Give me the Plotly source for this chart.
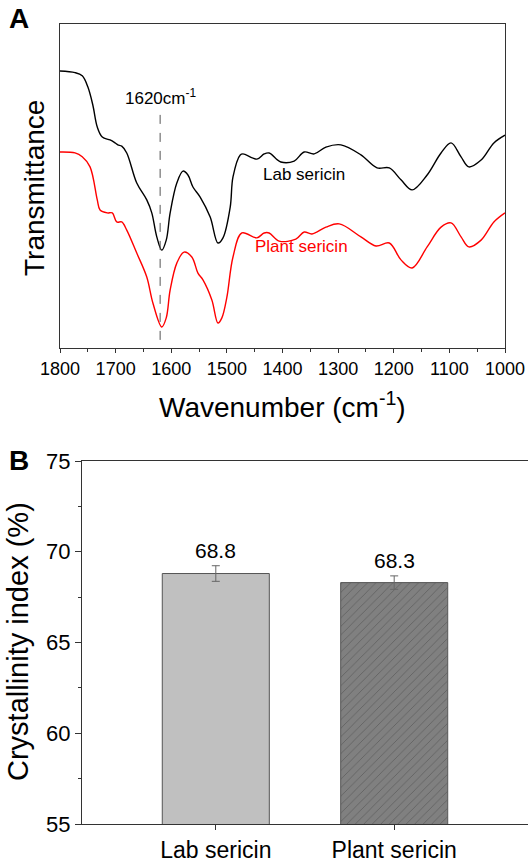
import plotly.graph_objects as go

# ---------------- Panel A: FTIR spectra (arbitrary transmittance units) ----------------
wn_lab = [1800, 1773, 1760, 1750, 1741, 1733, 1724, 1710, 1701, 1696, 1689, 1680, 1662, 1644,
          1635, 1626, 1617, 1609, 1602, 1590, 1579, 1570, 1561, 1548, 1530, 1516, 1507, 1494,
          1489, 1476, 1471, 1446, 1433, 1424, 1403, 1379, 1361, 1343, 1322, 1295, 1259, 1230,
          1208, 1187, 1167, 1140, 1115, 1097, 1079, 1065, 1043, 1020, 1000]
t_lab = [85.5, 85.0, 84.0, 80.6, 75.0, 68.2, 65.1, 64.2, 63.3, 62.7, 62.3, 60.2, 50.9, 45.7,
         41.7, 34.3, 30.2, 33.3, 41.7, 50.9, 54.6, 53.4, 49.7, 46.6, 40.4, 32.4, 34.0, 43.5,
         52.8, 59.6, 59.9, 58.3, 59.9, 60.2, 57.4, 57.7, 60.5, 59.9, 62.0, 62.7, 59.6, 55.6,
         55.6, 51.9, 48.8, 53.4, 60.2, 63.3, 59.0, 55.9, 58.0, 63.3, 65.7]

wn_plant = [1800, 1773, 1760, 1746, 1733, 1728, 1715, 1706, 1698, 1689, 1680, 1662, 1644, 1633,
            1617, 1609, 1602, 1590, 1577, 1563, 1552, 1543, 1527, 1516, 1509, 1500, 1489, 1473,
            1446, 1433, 1424, 1406, 1376, 1361, 1347, 1322, 1298, 1259, 1232, 1208, 1187, 1167,
            1140, 1115, 1097, 1079, 1065, 1043, 1020, 1000]
t_plant = [60.5, 60.2, 59.0, 55.9, 45.7, 42.6, 41.7, 41.7, 38.9, 38.9, 36.4, 29.3, 21.9, 13.9,
           6.5, 9.3, 17.9, 26.2, 29.6, 28.1, 23.1, 21.0, 14.8, 7.7, 9.3, 15.7, 28.1, 35.5,
           34.0, 35.5, 35.5, 33.0, 33.6, 35.8, 35.2, 37.3, 38.3, 34.3, 31.5, 32.4, 27.2, 24.7,
           31.2, 37.3, 38.6, 34.3, 31.2, 33.3, 38.9, 41.7]

peak_wn = 1620
wn_ticks = [1800, 1700, 1600, 1500, 1400, 1300, 1200, 1100, 1000]

# ---------------- Panel B: crystallinity index ----------------
categories = ["Lab sericin", "Plant sericin"]
crystallinity = [68.8, 68.3]
crystallinity_err = [0.43, 0.37]
ci_ticks = [55, 60, 65, 70, 75]

W, H = 528, 864
FONT = "Arial, Liberation Sans, sans-serif"
AXC = "#333333"


def px(x):
    return x / W


def py(y):
    return 1 - y / H


fig = go.Figure()

fig.add_trace(go.Scatter(x=wn_lab, y=t_lab, mode="lines", line=dict(color="#000000", width=1.4, shape="spline", smoothing=1.0),
                         xaxis="x", yaxis="y", showlegend=False))
fig.add_trace(go.Scatter(x=wn_plant, y=t_plant, mode="lines", line=dict(color="#ff0000", width=1.4, shape="spline", smoothing=1.0),
                         xaxis="x", yaxis="y", showlegend=False))

fig.add_trace(go.Bar(
    x=[0, 1], y=crystallinity, width=0.6, xaxis="x2", yaxis="y2", showlegend=False,
    marker=dict(
        color=["#c0c0c0", "#808080"],
        line=dict(color="#555555", width=1),
        pattern=dict(shape=["", "/"], fgcolor="#2a2a2a", size=6, solidity=0.15, fillmode="overlay"),
    ),
    error_y=dict(type="data", array=crystallinity_err, visible=True, color="#666666", thickness=1, width=4),
))

annotations = []
for i, (v, e) in enumerate(zip(crystallinity, crystallinity_err)):
    annotations.append(dict(x=i, y=v + e, xref="x2", yref="y2", text=f"{v:.1f}", showarrow=False,
                            xanchor="center", yanchor="bottom", yshift=2,
                            font=dict(size=21, color="#000", family=FONT)))

C = dict(xanchor="center", yanchor="middle", showarrow=False)
annotations += [
    dict(x=peak_wn, y=77.5, xref="x", yref="y", text="1620cm<sup>-1</sup>",
         font=dict(size=17, color="#000", family=FONT), **C),
    dict(x=1361, y=53.4, xref="x", yref="y", text="Lab sericin",
         font=dict(size=17, color="#000", family=FONT), **C),
    dict(x=1366, y=31.2, xref="x", yref="y", text="Plant sericin",
         font=dict(size=17, color="#ff0000", family=FONT), **C),
    dict(x=px(35), y=py(188), xref="paper", yref="paper", text="Transmittance", textangle=-90,
         font=dict(size=28, color="#000", family=FONT), **C),
    dict(x=px(282), y=py(405), xref="paper", yref="paper", text="Wavenumber (cm<sup>-1</sup>)",
         font=dict(size=28, color="#000", family=FONT), **C),
    dict(x=px(18), y=py(642), xref="paper", yref="paper", text="Crystallinity index (%)", textangle=-90,
         font=dict(size=29, color="#000", family=FONT), **C),
    dict(x=px(19), y=py(19), xref="paper", yref="paper", text="<b>A</b>",
         font=dict(size=28, color="#000", family=FONT), **C),
    dict(x=px(19), y=py(460), xref="paper", yref="paper", text="<b>B</b>",
         font=dict(size=28, color="#000", family=FONT), **C),
]

fig.add_shape(type="line", xref="x", yref="y", x0=peak_wn, x1=peak_wn, y0=2.5, y1=73.5,
              line=dict(color="#555555", width=1, dash="dash"))

axis_common = dict(showline=True, linecolor=AXC, linewidth=1.3, mirror=True, showgrid=False,
                   zeroline=False, automargin=False)

fig.update_layout(
    width=W, height=H,
    margin=dict(l=0, r=0, t=0, b=0, autoexpand=False),
    paper_bgcolor="white", plot_bgcolor="white",
    font=dict(family=FONT, color="#000"),
    showlegend=False,
    xaxis=dict(domain=[px(60), px(505)], range=[1800, 1000], anchor="y",
               tickvals=wn_ticks, ticks="outside", ticklen=4, tickwidth=1.2, tickcolor=AXC,
               minor=dict(dtick=50, ticks="outside", ticklen=2.5, tickcolor=AXC, tickwidth=1),
               tickfont=dict(size=18, family=FONT, color="#000"), **axis_common),
    yaxis=dict(domain=[py(348), py(24)], range=[0, 100], anchor="x", showticklabels=False, ticks="",
               **axis_common),
    xaxis2=dict(domain=[px(82), 1.0], range=[-0.75, 1.75], anchor="y2",
                tickvals=[0, 1], ticktext=categories, ticks="outside", ticklen=5, tickwidth=1.2, tickcolor=AXC,
                tickfont=dict(size=23, family=FONT, color="#000"), **axis_common),
    yaxis2=dict(domain=[py(824), py(461)], range=[55, 75], anchor="x2",
                tickvals=ci_ticks, ticks="outside", ticklen=6, tickwidth=1.2, tickcolor=AXC,
                minor=dict(dtick=2.5, ticks="outside", ticklen=3, tickcolor=AXC, tickwidth=1),
                tickfont=dict(size=22, family=FONT, color="#000"), **axis_common),
    annotations=annotations,
)

fig.write_html("out.html", config={"displayModeBar": False},
               post_script="document.body.style.margin='0px';document.body.style.overflow='hidden';")
